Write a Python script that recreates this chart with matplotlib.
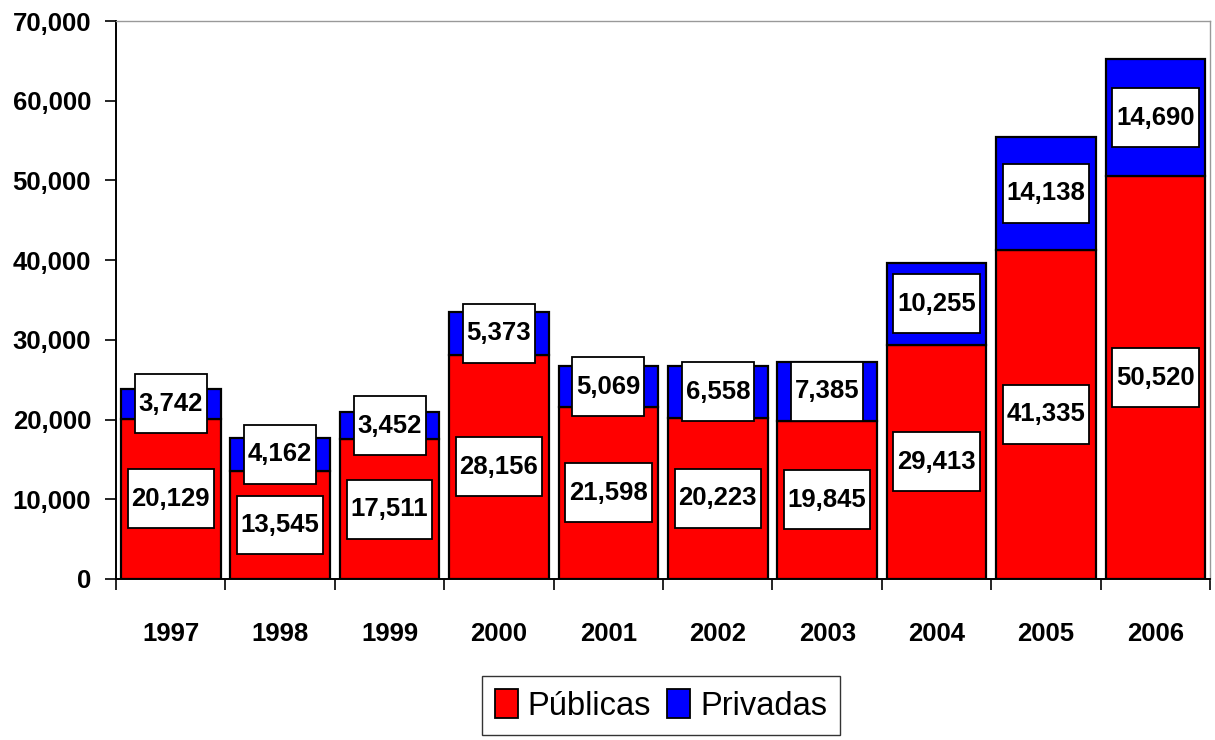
import numpy as np
import matplotlib
matplotlib.use("Agg")
import matplotlib.pyplot as plt
from matplotlib.path import Path

years = ["1997", "1998", "1999", "2000", "2001", "2002", "2003", "2004", "2005", "2006"]
publicas = [20129, 13545, 17511, 28156, 21598, 20223, 19845, 29413, 41335, 50520]
privadas = [3742, 4162, 3452, 5373, 5069, 6558, 7385, 10255, 14138, 14690]

plt.rcParams["font.family"] = ["Liberation Sans", "DejaVu Sans"]


# white label box, more padding vertically than horizontally
def label_box(x0, y0, width, height, mutation_size):
    px = 0.15 * mutation_size
    py = 0.68 * mutation_size
    x0, y0 = x0 - px, y0 - py
    x1, y1 = x0 + width + 2 * px, y0 + height + 2 * py
    return Path([(x0, y0), (x1, y0), (x1, y1), (x0, y1), (x0, y0)], closed=True)


fig = plt.figure(figsize=(12.15, 7.40), dpi=100)
ax = fig.add_axes([0.0955, 0.2176, 0.9005, 0.754])

x = np.arange(len(years))
pub = np.array(publicas)
pri = np.array(privadas)
w = 0.91
ax.bar(x, pub, width=w, color="#FF0000", edgecolor="black", linewidth=1.6, label="Públicas", zorder=2)
ax.bar(x, pri, width=w, bottom=pub, color="#0000FF", edgecolor="black", linewidth=1.6, label="Privadas", zorder=2)

fs = 18.5
box = dict(boxstyle=label_box, facecolor="white", edgecolor="black", linewidth=1.3)
for i in range(len(years)):
    ax.text(x[i], pub[i] / 2, f"{pub[i]:,}", ha="center", va="center",
            fontsize=fs, fontweight="bold", bbox=box, zorder=3)
    ax.text(x[i], pub[i] + pri[i] / 2, f"{pri[i]:,}", ha="center", va="center",
            fontsize=fs, fontweight="bold", bbox=box, zorder=3)

ax.set_xlim(-0.5, len(years) - 0.5)
ax.set_ylim(0, 70000)
ax.set_yticks(np.arange(0, 70001, 10000))
ax.set_yticklabels([f"{v:,}" for v in range(0, 70001, 10000)], fontsize=fs, fontweight="bold")
ax.set_xticks(x)
ax.set_xticklabels(years, fontsize=fs, fontweight="bold")
ax.set_xticks(np.arange(-0.5, len(years), 1.0), minor=True)
ax.tick_params(axis="x", which="major", length=0, pad=31)
ax.tick_params(axis="x", which="minor", length=8, width=1.2, direction="out")
ax.tick_params(axis="y", length=8, width=1.2, direction="out", pad=10)

ax.spines["left"].set_linewidth(1.4)
ax.spines["bottom"].set_linewidth(1.4)
for s in ["top", "right"]:
    ax.spines[s].set_color("#999999")
    ax.spines[s].set_linewidth(1.0)

leg = fig.legend(loc="upper center", bbox_to_anchor=(0.544, 0.086), ncol=2,
                 fontsize=23.5, frameon=True, fancybox=False, edgecolor="black",
                 handlelength=0.7, handleheight=0.95, handletextpad=0.3,
                 columnspacing=0.5, borderpad=0.4, borderaxespad=0)
leg.get_frame().set_linewidth(1.0)
for h in leg.legend_handles:
    h.set_linewidth(1.3)

fig.savefig("out.png", dpi=100)
